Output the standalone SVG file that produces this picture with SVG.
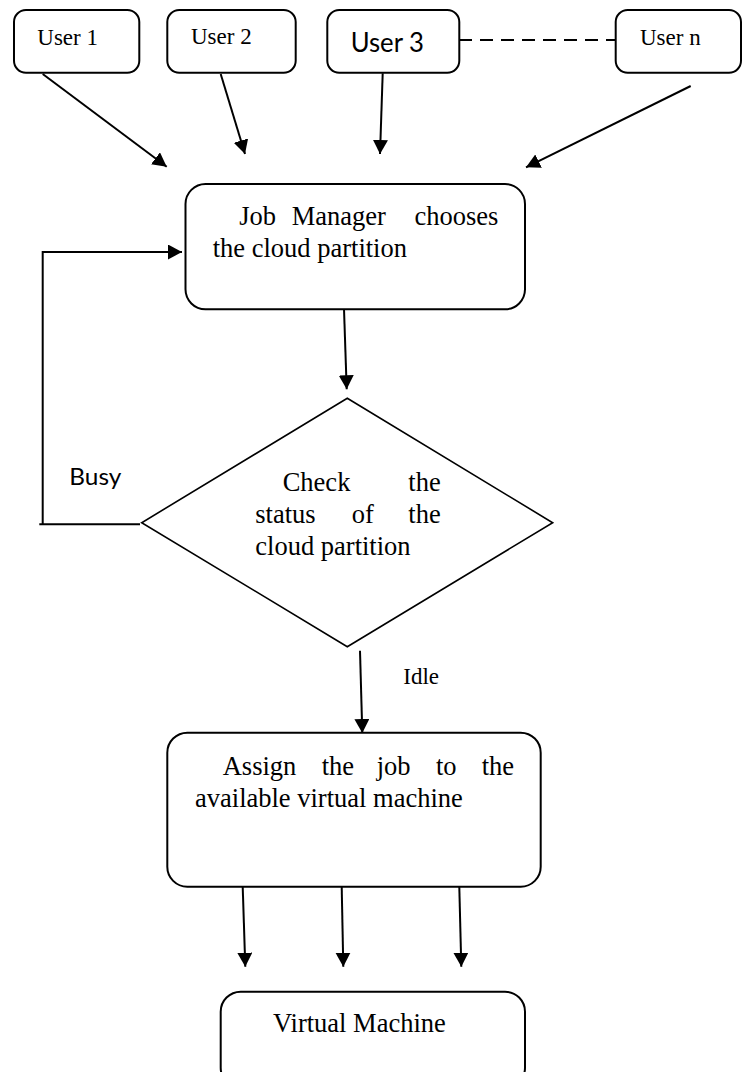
<svg xmlns="http://www.w3.org/2000/svg" width="747" height="1072" viewBox="0 0 747 1072">
<style>
.box{fill:#fff;stroke:#000;stroke-width:2}
.dia{fill:#fff;stroke:#000;stroke-width:1.6}
.ln{fill:none;stroke:#000;stroke-width:2}
.ar{fill:none;stroke:#000;stroke-width:2;marker-end:url(#ah)}
.t{font-family:"Liberation Serif","Times New Roman",serif;font-size:26.5px;fill:#000}
.ts{font-family:"Liberation Serif","Times New Roman",serif;font-size:23px;fill:#000}
.sans{font-family:Lato,"Liberation Sans",sans-serif;fill:#000}
</style>
<defs>
<marker id="ah" markerUnits="userSpaceOnUse" markerWidth="15" markerHeight="16" refX="14" refY="7.5" orient="auto">
<path d="M0,0 L14,7.5 L0,15 z" fill="#000"/>
</marker>
</defs>
<g id="connectors">
<line class="ln" x1="459" y1="40" x2="616" y2="40" stroke-dasharray="13,8"/>
<line class="ar" x1="42.7" y1="74" x2="166.7" y2="166.7"/>
<line class="ar" x1="220.7" y1="74" x2="245" y2="154"/>
<line class="ar" x1="382.7" y1="73.3" x2="380" y2="154"/>
<line class="ar" x1="690.7" y1="86" x2="526" y2="167.3"/>
<line class="ar" x1="344" y1="309" x2="346.7" y2="389.3"/>
<polyline class="ln" points="39.3,524.3 140,524.3"/>
<polyline class="ar" points="42.7,524.3 42.7,252 182,252"/>
<line class="ar" x1="360" y1="650.7" x2="362.3" y2="733"/>
<line class="ar" x1="242.7" y1="886.7" x2="245.3" y2="966.7"/>
<line class="ar" x1="341.7" y1="886.7" x2="343.3" y2="966.7"/>
<line class="ar" x1="459.3" y1="886.7" x2="461.3" y2="966.7"/>
<text class="sans" x="69.3" y="485" font-size="23" textLength="52" lengthAdjust="spacingAndGlyphs">Busy</text>
<text class="ts" x="403.3" y="684">Idle</text>
</g>
<g id="user1">
<rect class="box" x="14" y="10" width="125.3" height="62.7" rx="12"/>
<text class="ts" x="37.3" y="45">User 1</text>
</g>
<g id="user2">
<rect class="box" x="167.3" y="10" width="128.4" height="62.7" rx="12"/>
<text class="ts" x="191" y="44">User 2</text>
</g>
<g id="user3">
<rect class="box" x="327.3" y="10" width="132" height="62.7" rx="12"/>
<text class="sans" x="350.7" y="51.7" font-size="26" textLength="73.3" lengthAdjust="spacingAndGlyphs">User 3</text>
</g>
<g id="usern">
<rect class="box" x="615.7" y="10" width="125.3" height="62.7" rx="12"/>
<text class="ts" x="640" y="45">User n</text>
</g>
<g id="jobmanager">
<rect class="box" x="185.5" y="184" width="339.5" height="125.3" rx="20"/>
<text class="t" y="225"><tspan x="239.3">Job</tspan><tspan x="291.7">Manager</tspan><tspan x="498.3" text-anchor="end">chooses</tspan></text>
<text class="t" x="212.7" y="257.3">the cloud partition</text>
</g>
<g id="check">
<polygon class="dia" points="347.3,398.3 552.7,522.7 347.3,646.7 141.7,522.7"/>
<text class="t" y="490.7"><tspan x="282.7">Check</tspan><tspan x="440.7" text-anchor="end">the</tspan></text>
<text class="t" y="522.7"><tspan x="255.3">status</tspan><tspan x="351.7">of</tspan><tspan x="440.7" text-anchor="end">the</tspan></text>
<text class="t" x="255.3" y="555">cloud partition</text>
</g>
<g id="assign">
<rect class="box" x="167.3" y="732.7" width="373.4" height="154" rx="20"/>
<text class="t" y="775"><tspan x="222.7">Assign</tspan><tspan x="321.7">the</tspan><tspan x="376.7">job</tspan><tspan x="436">to</tspan><tspan x="514" text-anchor="end">the</tspan></text>
<text class="t" x="195" y="807.3">available virtual machine</text>
</g>
<g id="vm">
<rect class="box" x="220.7" y="991.7" width="304.3" height="96" rx="20"/>
<text class="t" x="273" y="1031.7">Virtual Machine</text>
</g>
</svg>
